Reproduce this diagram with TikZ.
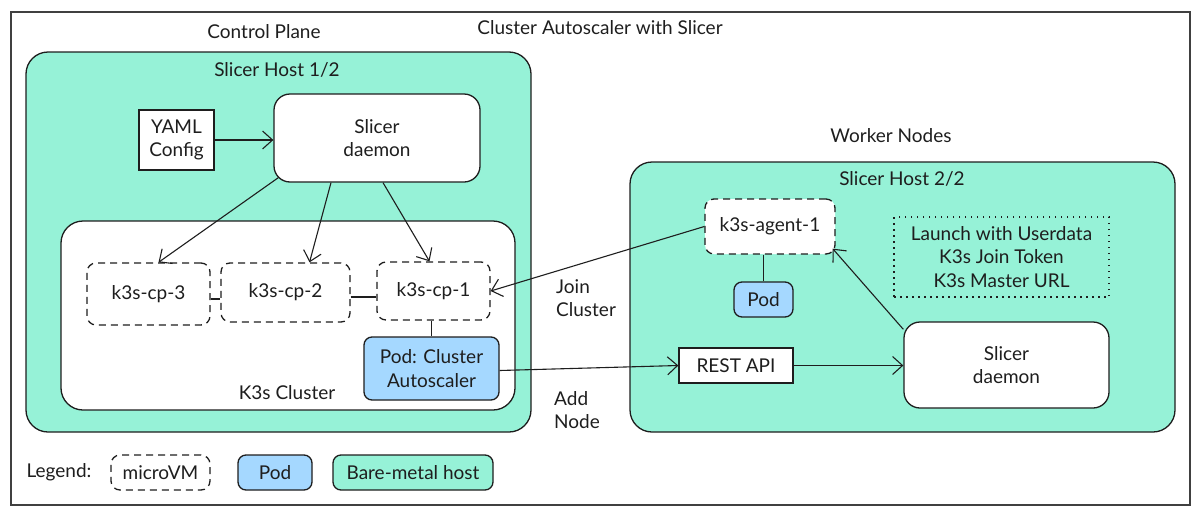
\documentclass[tikz,border=0pt]{standalone}
\usepackage{fontspec}
\setmainfont{Lato}
\usetikzlibrary{arrows.meta}
\definecolor{teal}{HTML}{96F2D7}
\definecolor{podblue}{HTML}{A5D8FF}
\definecolor{ink}{HTML}{1E1E1E}
\tikzset{
  txt/.style={font=\fontsize{19}{23.5}\selectfont, text=ink, align=center, inner sep=0pt},
  host/.style={draw=ink, fill=teal, line width=1.3pt, rounded corners=22pt, inner sep=0pt},
  clus/.style={draw=ink, fill=white, line width=1.3pt, rounded corners=22pt, inner sep=0pt},
  vm/.style={draw=ink, fill=white, line width=1.3pt, dashed, dash pattern=on 7pt off 5pt, rounded corners=9pt, inner sep=0pt, txt},
  pod/.style={draw=ink, fill=podblue, line width=1.3pt, rounded corners=8pt, inner sep=0pt, txt},
  sq/.style={draw=ink, fill=white, line width=1.3pt, inner sep=0pt, txt},
  daemon/.style={draw=ink, fill=white, line width=1.3pt, rounded corners=16pt, inner sep=0pt, txt},
  bm/.style={draw=ink, fill=teal, line width=1.3pt, rounded corners=8pt, inner sep=0pt, txt},
  note/.style={draw=ink, line width=1.3pt, dash pattern=on 1.5pt off 4.5pt, inner sep=0pt, txt},
  arr/.style={draw=ink, line width=1.1pt, -{Straight Barb[length=10pt,width=18pt,line width=1.1pt]}},
  link/.style={draw=ink, line width=1.3pt},
}
\begin{document}
\begin{tikzpicture}[x=1pt,y=-1pt]
\useasboundingbox (0,0) rectangle (1200,517);
\node[draw=ink!85, line width=1.4pt, minimum width=1179pt, minimum height=493pt, inner sep=0pt] (frame) at (600.5,258.5) {};

% titles
\node[txt] (title) at (600,28) {Cluster Autoscaler with Slicer};
\node[txt] (cplabel) at (264,32) {Control Plane};
\node[txt] (wnlabel) at (891,136) {Worker Nodes};

% host 1
\node[host, minimum width=505pt, minimum height=380pt] (host1) at (278.5,242) {};
\node[txt] (h1label) at (277,70) {Slicer Host 1/2};
\node[clus, minimum width=454pt, minimum height=189pt] (k3s) at (288,315.5) {};
\node[txt] (k3slabel) at (287,393) {K3s Cluster};

\node[sq, minimum width=75pt, minimum height=60pt] (yaml) at (176.5,140) {YAML\\Config};
\node[daemon, minimum width=206pt, minimum height=88pt] (d1) at (377,138) {Slicer\\daemon};

\node[vm, minimum width=123pt, minimum height=62pt] (cp3) at (148.5,294) {k3s-cp-3};
\node[vm, minimum width=129pt, minimum height=59pt] (cp2) at (285.5,292.5) {k3s-cp-2};
\node[vm, minimum width=113pt, minimum height=58pt] (cp1) at (433.5,291) {k3s-cp-1};
\node[pod, minimum width=135pt, minimum height=63pt] (as) at (431.5,368.5) {Pod: Cluster\\Autoscaler};

% host 2
\node[host, minimum width=545pt, minimum height=270pt] (host2) at (902.5,297) {};
\node[txt] (h2label) at (902,179) {Slicer Host 2/2};
\node[vm, minimum width=130pt, minimum height=55pt] (agent) at (770,226.5) {k3s-agent-1};
\node[pod, minimum width=59pt, minimum height=35pt] (pod2) at (763.5,299.5) {Pod};
\node[note, minimum width=215pt, minimum height=80pt] (ud) at (1001.5,257) {Launch with Userdata\\K3s Join Token\\K3s Master URL};
\node[daemon, minimum width=205pt, minimum height=86pt] (d2) at (1006.5,365) {Slicer\\daemon};
\node[sq, minimum width=114pt, minimum height=35pt] (rest) at (736,365.5) {REST API};

% edge labels
\node[txt, align=left, anchor=west] (join) at (556,298) {Join\\Cluster};
\node[txt, align=left, anchor=west] (add) at (554,410) {Add\\Node};

% legend
\node[txt] (leg) at (59,472) {Legend:};
\node[vm, minimum width=99pt, minimum height=35pt] (lvm) at (160.5,472.5) {microVM};
\node[pod, minimum width=74pt, minimum height=35pt] (lpod) at (275,472.5) {Pod};
\node[bm, minimum width=160pt, minimum height=35pt] (lbm) at (413,472.5) {Bare-metal host};

% connectors
\draw[arr] (yaml.east) -- (d1.west |- yaml.east);
\draw[arr] ([shift={(5pt,5pt)}]d1.south west) -- ([xshift=10pt]cp3.north);
\draw[arr] ([xshift=-46pt]d1.south) -- ([xshift=24pt]cp2.north);
\draw[arr] ([xshift=6pt]d1.south) -- ([xshift=-4pt]cp1.north);
\draw[link] ([yshift=-5pt]cp3.east) -- ([yshift=-5pt]cp3.east -| cp2.west);
\draw[link, line width=2pt] ([yshift=-4pt]cp2.east) -- ([yshift=-4pt]cp2.east -| cp1.west);
\draw[link] (cp1.south -| as.north) -- (as.north);
\draw[arr] (agent.west) -- (cp1.east);
\draw[arr] ([yshift=-2pt]as.east) -- (rest.west);
\draw[arr] (rest.east) -- (d2.west |- rest.east);
\draw[arr] ([yshift=-8pt]d2.north west) -- ([shift={(-3pt,6pt)}]agent.south east);
\draw[link] (agent.south -| pod2.north) -- (pod2.north);
\end{tikzpicture}
\end{document}
